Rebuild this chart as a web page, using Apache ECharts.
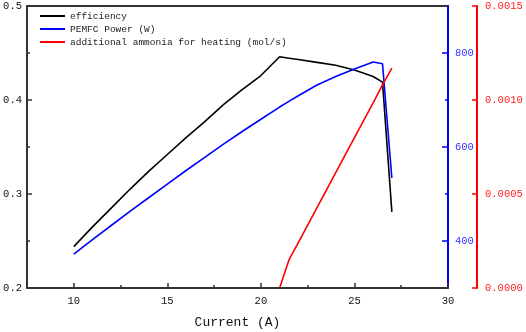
<!DOCTYPE html>
<html>
<head>
<meta charset="utf-8">
<script src="https://cdn.jsdelivr.net/npm/echarts@6/dist/echarts.min.js"></script>
<style>
  html, body { margin: 0; padding: 0; background: #fff; }
  #chart { width: 526px; height: 332px; }
</style>
</head>
<body>
<div id="chart"></div>
<script>
// values
const current = [10, 11, 12, 13, 14, 15, 16, 17, 18, 19, 20, 21, 21.5, 22, 23, 24, 25, 26, 26.5, 27];
const efficiency = [0.244, 0.265, 0.285, 0.305, 0.324, 0.342, 0.360, 0.377, 0.395, 0.411, 0.426, 0.446, 0.4445, 0.443, 0.440, 0.437, 0.432, 0.425, 0.419, 0.281];
const power = [372, 403, 433, 463, 492, 521, 550, 578, 606, 633, 659, 685, 697, 709, 732, 750, 766, 781, 777, 534];
const ammonia = [0, 0, 0, 0, 0, 0, 0, 0, 0, 0, 0, 0, 0.000149, 0.000242, 0.000428, 0.000614, 0.0008, 0.000985, 0.00108, 0.00117];

const xMajor = [10, 15, 20, 25, 30];
const xMinor = [12.5, 17.5, 22.5, 27.5];
const powerMajor = [400, 600, 800];
const powerMinor = [500, 700];

const FONT = 'Liberation Mono';
const DARK = '#333';
const BLUE = '#0000ff';
const RED = '#ff0000';

function pairs(ys) {
    return current.map((x, i) => [x, ys[i]]);
}

const chart = echarts.init(document.getElementById('chart'));

const option = {
    animation: false,
    grid: { left: 27, right: 78, top: 6, bottom: 44, containLabel: false, outerBoundsMode: 'none' },
    legend: {
        orient: 'vertical',
        left: 35,
        top: 5,
        icon: 'rect',
        itemWidth: 25,
        itemHeight: 2,
        itemGap: 1,
        textStyle: { fontFamily: FONT, fontSize: 9.5, lineHeight: 12, color: '#222' },
        data: ['efficiency', 'PEMFC Power (W)', 'additional ammonia for heating (mol/s)']
    },
    xAxis: [
        {
            type: 'value', position: 'bottom', min: 7.5, max: 30, z: 5,
            name: 'Current (A)', nameLocation: 'middle', nameGap: 28,
            nameTextStyle: { fontFamily: FONT, fontSize: 13, color: '#111' },
            axisLine: { lineStyle: { color: DARK, width: 2 } },
            axisTick: { inside: true, length: 5, customValues: xMajor, lineStyle: { color: DARK, width: 1.5 } },
            axisLabel: { customValues: xMajor, margin: 8, fontFamily: FONT, fontSize: 10.5, color: '#111' },
            splitLine: { show: false }
        },
        {
            type: 'value', position: 'bottom', min: 7.5, max: 30, z: 5,
            axisLine: { show: false },
            axisTick: { inside: true, length: 3, customValues: xMinor, lineStyle: { color: DARK, width: 1.5 } },
            axisLabel: { show: false },
            splitLine: { show: false }
        },
        {
            type: 'value', position: 'top', min: 7.5, max: 30,
            axisLine: { lineStyle: { color: DARK, width: 2 } },
            axisTick: { show: false },
            axisLabel: { show: false },
            splitLine: { show: false }
        }
    ],
    yAxis: [
        {
            type: 'value', position: 'left', min: 0.2, max: 0.5, interval: 0.1,
            axisLine: { show: true, lineStyle: { color: DARK, width: 2 } },
            axisTick: { show: true, inside: true, length: 5, lineStyle: { color: DARK, width: 1.5 } },
            minorTick: { show: true, splitNumber: 2, length: 3, lineStyle: { color: DARK, width: 1.5 } },
            axisLabel: { margin: 5, fontFamily: FONT, fontSize: 10.5, color: '#111', formatter: v => v.toFixed(1) },
            splitLine: { show: false }
        },
        {
            type: 'value', position: 'right', min: 300, max: 900, z: 4,
            axisLine: { show: true, lineStyle: { color: BLUE, width: 2 } },
            axisTick: { show: true, inside: true, length: 6, customValues: powerMajor, lineStyle: { color: BLUE, width: 1.5 } },
            axisLabel: { customValues: powerMajor, margin: 7, fontFamily: FONT, fontSize: 10.5, color: '#3333ff' },
            splitLine: { show: false }
        },
        {
            type: 'value', position: 'right', min: 300, max: 900, z: 4,
            axisLine: { show: false },
            axisTick: { show: true, inside: true, length: 3, customValues: powerMinor, lineStyle: { color: BLUE, width: 1.5 } },
            axisLabel: { show: false },
            splitLine: { show: false }
        },
        {
            type: 'value', position: 'right', offset: 29, min: 0, max: 0.0015, interval: 0.0005,
            axisLine: { show: true, lineStyle: { color: RED, width: 2 } },
            axisTick: { show: true, inside: true, length: 5, lineStyle: { color: RED, width: 1.5 } },
            axisLabel: { margin: 8, fontFamily: FONT, fontSize: 10.5, color: '#ff2222', formatter: v => v.toFixed(4) },
            splitLine: { show: false }
        }
    ],
    series: [
        {
            name: 'efficiency', type: 'line', xAxisIndex: 0, yAxisIndex: 0,
            symbol: 'none', color: '#000', lineStyle: { width: 1.6 },
            data: pairs(efficiency)
        },
        {
            name: 'PEMFC Power (W)', type: 'line', xAxisIndex: 0, yAxisIndex: 1,
            symbol: 'none', color: BLUE, lineStyle: { width: 1.6 },
            data: pairs(power)
        },
        {
            name: 'additional ammonia for heating (mol/s)', type: 'line', xAxisIndex: 0, yAxisIndex: 3,
            symbol: 'none', color: RED, lineStyle: { width: 1.6 },
            data: pairs(ammonia)
        }
    ]
};

chart.setOption(option);
</script>
</body>
</html>
